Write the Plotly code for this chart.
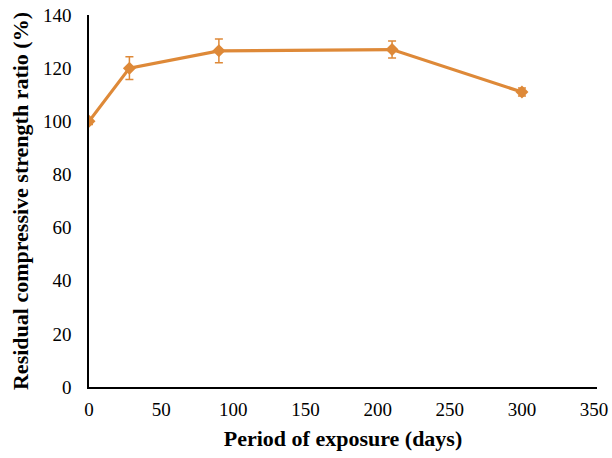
import plotly.graph_objects as go

# Exposure period (days) and residual compressive strength ratio (%)
days = [0, 28, 90, 210, 300]
strength_ratio = [100, 120, 126.5, 127, 111]
error = [1.2, 4.3, 4.5, 3.2, 1.5]

x_ticks = [0, 50, 100, 150, 200, 250, 300, 350]
y_ticks = [0, 20, 40, 60, 80, 100, 120, 140]

orange = "rgb(222,137,56)"
serif = "Liberation Serif, Times New Roman, serif"

fig = go.Figure(
    go.Scatter(
        x=days,
        y=strength_ratio,
        mode="lines+markers",
        line=dict(color=orange, width=3.2),
        marker=dict(symbol="diamond", size=10, color=orange),
        error_y=dict(type="data", array=error, visible=True,
                     color=orange, thickness=1.5, width=4),
        showlegend=False,
    )
)

fig.update_layout(
    width=612,
    height=458,
    margin=dict(l=89, r=15, t=15, b=71),
    paper_bgcolor="white",
    plot_bgcolor="white",
    font=dict(family=serif, size=19, color="black"),
)

fig.update_xaxes(
    range=[0, 352],
    tickvals=x_ticks,
    automargin=False,
    showgrid=False,
    zeroline=False,
    showline=True,
    linecolor="black",
    linewidth=1.5,
    ticks="",
    ticklabelstandoff=4,
    tickfont=dict(family=serif, size=19),
    title=dict(text="<b>Period of exposure (days)</b>",
               font=dict(family=serif, size=22), standoff=12),
)

fig.update_yaxes(
    range=[0, 140],
    tickvals=y_ticks,
    automargin=False,
    showgrid=False,
    zeroline=False,
    showline=True,
    linecolor="black",
    linewidth=1.5,
    ticks="",
    ticklabelstandoff=12,
    tickfont=dict(family=serif, size=19),
    title=dict(text="<b>Residual compressive strength ratio (%)</b>",
               font=dict(family=serif, size=22), standoff=8),
)

fig.write_html("out.html")
